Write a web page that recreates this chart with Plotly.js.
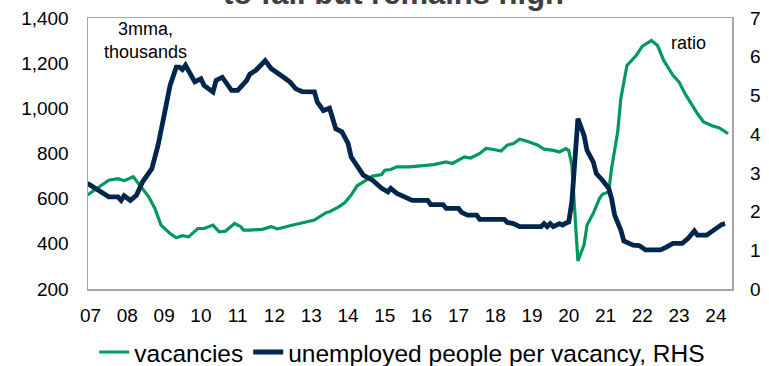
<!DOCTYPE html>
<html>
<head>
<meta charset="utf-8">
<script src="https://cdn.plot.ly/plotly-3.0.1.min.js"></script>
<style>
  html, body { margin: 0; padding: 0; background: #ffffff; }
  #chart { width: 769px; height: 366px; }
</style>
</head>
<body>
<div id="chart"></div>
<script>
// ---- Data ----
const vacDates = ['2006-12','2007-07','2007-10','2007-12','2008-03','2008-05','2008-08','2008-10','2008-12',
  '2009-03','2009-05','2009-07','2009-09','2009-12','2010-02','2010-05','2010-07','2010-09','2010-12',
  '2011-02','2011-03','2011-05','2011-07','2011-09','2011-12','2012-02','2012-06','2012-09','2012-12',
  '2013-02','2013-06','2013-07','2013-10','2013-12','2014-02','2014-04','2014-07','2014-09','2014-12',
  '2015-01','2015-03','2015-05','2015-09','2016-01','2016-05','2016-09','2016-11','2017-03','2017-05',
  '2017-08','2017-10','2017-12','2018-03','2018-05','2018-07','2018-09','2018-11','2019-03','2019-05',
  '2019-08','2019-10','2019-12','2020-01','2020-02','2020-03','2020-04','2020-06','2020-07','2020-09',
  '2020-11','2020-12','2021-02','2021-03','2021-05','2021-06','2021-08','2021-11','2022-01','2022-04',
  '2022-06','2022-08','2022-11','2023-01','2023-03','2023-05','2023-07','2023-09','2023-12','2024-02',
  '2024-05'];
const vacancies = [616,682,689,679,697,660,608,557,483,
  446,427,436,431,468,468,483,453,456,490,
  476,461,461,461,464,476,466,480,490,501,
  505,539,542,564,583,616,657,682,700,707,
  726,729,741,741,745,751,763,756,785,780,
  800,822,819,811,837,844,863,856,837,819,
  814,807,822,814,748,527,324,395,483,535,
  601,619,630,734,895,1043,1190,1234,1275,1300,
  1278,1212,1146,1116,1065,1021,977,940,922,914,
  888];

const ratioDates = ['2006-12','2007-04','2007-07','2007-10','2007-11','2007-12','2008-02','2008-04','2008-06',
  '2008-09','2008-11','2009-01','2009-03','2009-05','2009-06','2009-07','2009-08','2009-11','2010-01',
  '2010-02','2010-05','2010-06','2010-08','2010-11','2011-01','2011-04','2011-05','2011-07','2011-08',
  '2011-10','2011-12','2012-02','2012-04','2012-06','2012-08','2012-10','2013-02','2013-03','2013-05',
  '2013-07','2013-08','2013-09','2013-11','2014-01','2014-02','2014-04','2014-06','2014-09','2014-12',
  '2015-02','2015-03','2015-05','2015-08','2015-10','2016-03','2016-04','2016-08','2016-09','2017-01',
  '2017-02','2017-04','2017-07','2017-08','2018-04','2018-05','2018-07','2018-09','2019-04','2019-05',
  '2019-06','2019-07','2019-08','2019-10','2019-11','2019-12','2020-01','2020-02','2020-03','2020-04',
  '2020-06','2020-07','2020-09','2020-10','2020-12','2021-02','2021-03','2021-04','2021-06','2021-07',
  '2021-10','2021-12','2022-02','2022-07','2022-09','2022-11','2023-02','2023-04','2023-06','2023-07',
  '2023-10','2023-12','2024-01','2024-03','2024-04'];
const ratio = [2.73,2.51,2.38,2.38,2.29,2.41,2.29,2.42,2.77,
  3.11,3.71,4.49,5.26,5.73,5.73,5.67,5.78,5.35,5.43,
  5.26,5.09,5.39,5.47,5.13,5.13,5.39,5.55,5.65,5.73,
  5.90,5.69,5.59,5.47,5.35,5.17,5.10,5.09,4.83,4.61,
  4.67,4.44,4.14,4.06,3.76,3.41,3.15,2.94,2.81,2.60,
  2.51,2.60,2.47,2.38,2.29,2.29,2.18,2.18,2.08,2.08,
  1.98,1.91,1.91,1.80,1.80,1.72,1.69,1.61,1.61,1.69,
  1.61,1.69,1.61,1.69,1.65,1.70,1.73,2.25,3.45,4.40,
  3.97,3.58,3.28,2.98,2.81,2.60,2.34,1.91,1.52,1.24,
  1.13,1.12,1.01,1.01,1.09,1.18,1.18,1.31,1.50,1.39,
  1.39,1.52,1.56,1.67,1.69];

const yearTickVals = ['2007-01-01','2008-01-01','2009-01-01','2010-01-01','2011-01-01','2012-01-01',
  '2013-01-01','2014-01-01','2015-01-01','2016-01-01','2017-01-01','2018-01-01','2019-01-01',
  '2020-01-01','2021-01-01','2022-01-01','2023-01-01','2024-01-01'];
const yearTickText = ['07','08','09','10','11','12','13','14','15','16','17','18','19','20','21','22','23','24'];
const leftTicks = [200,400,600,800,1000,1200,1400];
const rightTicks = [0,1,2,3,4,5,6,7];

// ---- Styles ----
const GREEN = '#00995c';
const NAVY = '#00264d';
const FONT = 'Liberation Sans, Arial, sans-serif';

const traces = [
  {
    x: vacDates, y: vacancies, name: 'vacancies', type: 'scatter', mode: 'lines',
    line: { color: GREEN, width: 3.2 }, yaxis: 'y'
  },
  {
    x: ratioDates, y: ratio, name: 'unemployed people per vacancy, RHS', type: 'scatter', mode: 'lines',
    line: { color: NAVY, width: 4.8 }, yaxis: 'y2'
  }
];

const layout = {
  width: 769, height: 366,
  margin: { l: 88, r: 37, t: 18, b: 77, autoexpand: false },
  paper_bgcolor: '#ffffff', plot_bgcolor: '#ffffff',
  font: { family: FONT, size: 19, color: '#000000' },
  showlegend: true,
  legend: {
    orientation: 'h', x: 0.488, xanchor: 'center',
    yref: 'container', y: 0.038, yanchor: 'middle',
    font: { family: FONT, size: 24.5, color: '#000000' },
    itemwidth: 30, tracegroupgap: 0, bgcolor: 'rgba(0,0,0,0)'
  },
  xaxis: {
    type: 'date',
    range: ['2006-12-07', '2024-06-09'],
    tickmode: 'array', tickvals: yearTickVals, ticktext: yearTickText,
    ticks: '', showgrid: false, zeroline: false,
    showline: true, linecolor: '#a6a6a6', linewidth: 1.5, mirror: true,
    tickfont: { family: FONT, size: 19, color: '#000000' },
    ticklabelstandoff: 9
  },
  yaxis: {
    range: [200, 1400], tickmode: 'array', tickvals: leftTicks,
    tickformat: ',d', ticks: '', showgrid: false, zeroline: false,
    showline: true, linecolor: '#a6a6a6', linewidth: 1.5, mirror: true,
    tickfont: { family: FONT, size: 19, color: '#000000' },
    ticklabelstandoff: 14
  },
  yaxis2: {
    overlaying: 'y', side: 'right', range: [0, 7], tickmode: 'array', tickvals: rightTicks,
    ticks: '', showgrid: false, zeroline: false, showline: false,
    tickfont: { family: FONT, size: 19, color: '#000000' },
    ticklabelstandoff: 17
  },
  annotations: [
    {
      text: '<b>to fall but remains high</b>', xref: 'paper', yref: 'paper',
      x: 0.474, y: 1.02, xanchor: 'center', yanchor: 'bottom', showarrow: false,
      font: { family: FONT, size: 31, color: '#404040' }
    },
    {
      text: '3mma,<br>thousands', xref: 'paper', yref: 'paper',
      x: 0.089, y: 0.917, xanchor: 'center', yanchor: 'middle', showarrow: false,
      font: { family: FONT, size: 18, color: '#000000' }
    },
    {
      text: 'ratio', xref: 'paper', yref: 'paper',
      x: 0.933, y: 0.906, xanchor: 'center', yanchor: 'middle', showarrow: false,
      font: { family: FONT, size: 18, color: '#000000' }
    }
  ]
};

Plotly.newPlot('chart', traces, layout, { displayModeBar: false, staticPlot: true });
</script>
</body>
</html>
